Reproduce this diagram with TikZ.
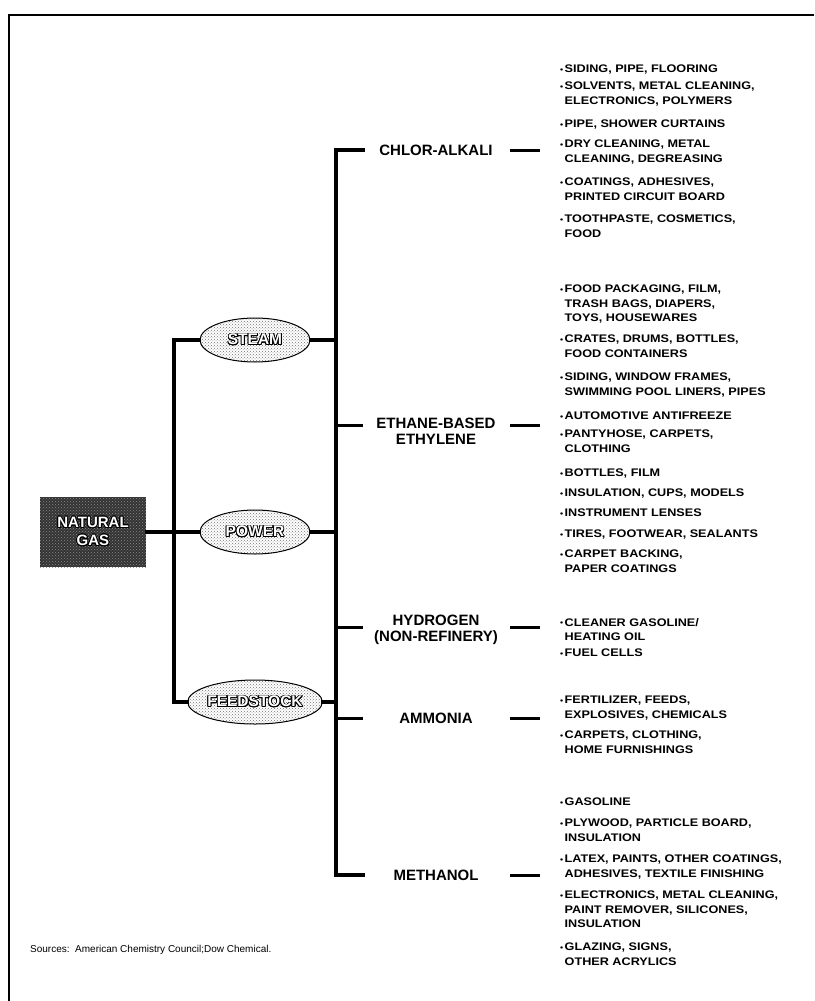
\documentclass[tikz,border=0pt]{standalone}
\usepackage{fontspec}
\setmainfont{Liberation Sans}
\newfontfamily\itemfont[FakeStretch=1.15]{Liberation Sans}
\usepackage{contour}
\usetikzlibrary{shapes.geometric,patterns}
\contourlength{0.8pt}
\newcommand{\itbul}{\makebox[4.5pt][l]{\raisebox{0.15ex}{\scalebox{0.7}{•}}}}
\newcommand{\itind}{\hspace*{4.5pt}}
\tikzset{
  trunk/.style={line width=3.2pt, line cap=rect, line join=miter},
  stub/.style={line width=3pt},
  frameline/.style={line width=1.4pt},
  ell/.style={ellipse, draw=black, line width=1pt, minimum width=110pt, minimum height=44pt, inner sep=0pt,
     preaction={fill=white}, pattern=crosshatch dots, pattern color=black!55,
     font=\bfseries\fontsize{15.5}{17}\selectfont},
  ngbox/.style={rectangle, minimum width=106pt, minimum height=70pt, inner sep=0pt,
     preaction={fill=black!80}, pattern=crosshatch dots, pattern color=black!45,
     align=center, font=\bfseries\fontsize{15}{18}\selectfont},
  mid/.style={align=center, inner sep=0pt, font=\bfseries\fontsize{15}{16}\selectfont},
  item/.style={anchor=north west, align=left, inner sep=0pt, font=\itemfont\bfseries\fontsize{11}{14.5}\selectfont},
  src/.style={anchor=west, inner sep=0pt, font=\fontsize{10}{12}\selectfont}
}
\begin{document}
\begin{tikzpicture}[x=1pt,y=-1pt]
\useasboundingbox (0,0) rectangle (814,1001);
\fill[white] (0,0) rectangle (814,1001);
% frame
\coordinate (fbl) at (9,1001);
\coordinate (ftl) at (9,15);
\coordinate (ftr) at (814,15);
\draw[frameline] (fbl) -- (ftl) -- (ftr);

% left nodes
\node[ngbox] (ng) at (93,532) {\contour{black}{\textcolor{white}{NATURAL}}\\\contour{black}{\textcolor{white}{GAS}}};
\node[ell] (steam) at (255,340) {\contour{black}{\textcolor{white}{STEAM}}};
\node[ell] (power) at (255,532) {\contour{black}{\textcolor{white}{POWER}}};
\node[ell] (feed) at (255,702) {\contour{black}{\textcolor{white}{FEEDSTOCK}}};

\coordinate (j1s) at (174,340);
\coordinate (j1f) at (174,702);
\draw[trunk] (steam.west) -- (j1s) -- (j1f) -- (feed.west);
\draw[trunk] (ng.east) -- (power.west);

% second trunk
\coordinate (j2a) at (336,150);
\coordinate (j2b) at (336,875);
\coordinate (s2a) at (363,150);
\coordinate (s2b) at (363,875);
\draw[trunk] (s2a) -- (j2a) -- (j2b) -- (s2b);
\draw[trunk] (steam.east) -- (steam.east -| j2a);
\draw[trunk] (power.east) -- (power.east -| j2a);
\draw[trunk] (feed.east) -- (feed.east -| j2a);

% middle labels
\node[mid] (chlor) at (436,150) {CHLOR-ALKALI};
\node[mid] (eth) at (436,431) {ETHANE-BASED\\ETHYLENE};
\node[mid] (hyd) at (436,630) {HYDROGEN\\(NON-REFINERY)};
\node[mid] (amm) at (436,718) {AMMONIA};
\node[mid] (meth) at (436,875) {METHANOL};

\foreach \y in {425,627,718}{
  \draw[stub] (336,\y) -- (363,\y);
}
\foreach \y in {150,425,627,718,875}{
  \draw[stub] (510,\y) -- (540,\y);
}

% items: chlor-alkali
\node[item] (c1) at (560,65) {\itbul SIDING, PIPE, FLOORING};
\node[item] (c2) at (560,82) {\itbul SOLVENTS, METAL CLEANING,\\\itind ELECTRONICS, POLYMERS};
\node[item] (c3) at (560,120) {\itbul PIPE, SHOWER CURTAINS};
\node[item] (c4) at (560,140) {\itbul DRY CLEANING, METAL\\\itind CLEANING, DEGREASING};
\node[item] (c5) at (560,178) {\itbul COATINGS, ADHESIVES,\\\itind PRINTED CIRCUIT BOARD};
\node[item] (c6) at (560,215) {\itbul TOOTHPASTE, COSMETICS,\\\itind FOOD};
% ethylene
\node[item] (e1) at (560,285) {\itbul FOOD PACKAGING, FILM,\\\itind TRASH BAGS, DIAPERS,\\\itind TOYS, HOUSEWARES};
\node[item] (e2) at (560,335) {\itbul CRATES, DRUMS, BOTTLES,\\\itind FOOD CONTAINERS};
\node[item] (e3) at (560,373) {\itbul SIDING, WINDOW FRAMES,\\\itind SWIMMING POOL LINERS, PIPES};
\node[item] (e4) at (560,412) {\itbul AUTOMOTIVE ANTIFREEZE};
\node[item] (e5) at (560,430) {\itbul PANTYHOSE, CARPETS,\\\itind CLOTHING};
\node[item] (e6) at (560,469) {\itbul BOTTLES, FILM};
\node[item] (e7) at (560,489) {\itbul INSULATION, CUPS, MODELS};
\node[item] (e8) at (560,509) {\itbul INSTRUMENT LENSES};
\node[item] (e9) at (560,530) {\itbul TIRES, FOOTWEAR, SEALANTS};
\node[item] (e10) at (560,550) {\itbul CARPET BACKING,\\\itind PAPER COATINGS};
% hydrogen
\node[item] (h1) at (560,618) {\itbul CLEANER GASOLINE/\\\itind HEATING OIL};
\node[item] (h2) at (560,649) {\itbul FUEL CELLS};
% ammonia
\node[item] (a1) at (560,696) {\itbul FERTILIZER, FEEDS,\\\itind EXPLOSIVES, CHEMICALS};
\node[item] (a2) at (560,731) {\itbul CARPETS, CLOTHING,\\\itind HOME FURNISHINGS};
% methanol
\node[item] (m1) at (560,798) {\itbul GASOLINE};
\node[item] (m2) at (560,819) {\itbul PLYWOOD, PARTICLE BOARD,\\\itind INSULATION};
\node[item] (m3) at (560,855) {\itbul LATEX, PAINTS, OTHER COATINGS,\\\itind ADHESIVES, TEXTILE FINISHING};
\node[item] (m4) at (560,891) {\itbul ELECTRONICS, METAL CLEANING,\\\itind PAINT REMOVER, SILICONES,\\\itind INSULATION};
\node[item] (m5) at (560,943) {\itbul GLAZING, SIGNS,\\\itind OTHER ACRYLICS};

\node[src] (sources) at (30,950) {Sources:\ \ American Chemistry Council;Dow Chemical.};
\end{tikzpicture}
\end{document}
